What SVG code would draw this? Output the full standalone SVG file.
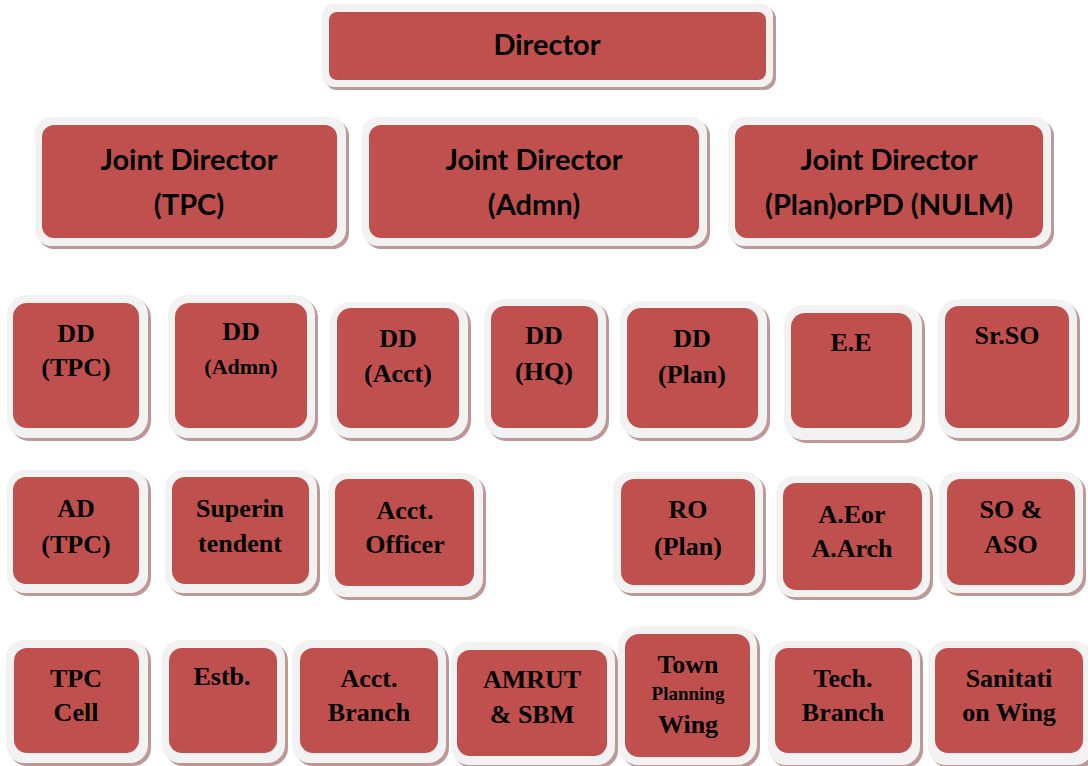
<svg xmlns="http://www.w3.org/2000/svg" width="1088" height="766" viewBox="0 0 1088 766">
<style>
.sh{fill:#BE9797}
.bd{fill:#F2F2F2}
.fl{fill:#C0504D}
text{fill:#000;text-anchor:middle}
.c{font-family:Lato,"Open Sans",sans-serif;font-weight:bold;font-size:29px}
.s{font-family:"Liberation Serif","Times New Roman",serif;font-weight:bold;font-size:26px}
.sm{font-family:"Liberation Serif","Times New Roman",serif;font-weight:bold;font-size:22px}
.xs{font-family:"Liberation Serif","Times New Roman",serif;font-weight:bold;font-size:19px}
</style>
<rect width="1088" height="766" fill="#FFFFFF"/>
<g id="connectors"></g>

<g id="director">
<rect class="sh" x="325" y="7" width="451" height="83" rx="12"/>
<rect class="bd" x="322" y="4" width="451" height="83" rx="12"/>
<rect class="fl" x="329" y="12" width="437" height="68" rx="8"/>
<text class="c" x="547" y="55">Director</text>
</g>

<g id="jd-tpc">
<rect class="sh" x="38" y="120" width="311" height="129" rx="16"/>
<rect class="bd" x="35" y="117" width="311" height="129" rx="16"/>
<rect class="fl" x="42" y="125" width="295" height="113" rx="12"/>
<text class="c" x="189" y="170">Joint Director</text>
<text class="c" x="189" y="215">(TPC)</text>
</g>
<g id="jd-admn">
<rect class="sh" x="365" y="120" width="345" height="129" rx="16"/>
<rect class="bd" x="362" y="117" width="345" height="129" rx="16"/>
<rect class="fl" x="369" y="125" width="330" height="113" rx="12"/>
<text class="c" x="534" y="170">Joint Director</text>
<text class="c" x="534" y="215">(Admn)</text>
</g>
<g id="jd-plan">
<rect class="sh" x="731" y="120" width="323" height="129" rx="16"/>
<rect class="bd" x="728" y="117" width="323" height="129" rx="16"/>
<rect class="fl" x="735" y="125" width="308" height="113" rx="12"/>
<text class="c" x="889" y="170">Joint Director</text>
<text class="c" x="889" y="215">(Plan)orPD (NULM)</text>
</g>

<g id="dd-tpc">
<rect class="sh" x="10" y="298" width="141" height="143" rx="20"/>
<rect class="bd" x="7" y="295" width="141" height="143" rx="20"/>
<rect class="fl" x="13" y="303" width="126" height="125" rx="14"/>
<text class="s" x="76" y="342">DD</text>
<text class="s" x="76" y="376">(TPC)</text>
</g>
<g id="dd-admn">
<rect class="sh" x="171" y="298" width="147" height="143" rx="20"/>
<rect class="bd" x="168" y="295" width="147" height="143" rx="20"/>
<rect class="fl" x="175" y="303" width="132" height="125" rx="14"/>
<text class="s" x="241" y="340">DD</text>
<text class="sm" x="241" y="374">(Admn)</text>
</g>
<g id="dd-acct">
<rect class="sh" x="333" y="305" width="138" height="136" rx="20"/>
<rect class="bd" x="330" y="302" width="138" height="136" rx="20"/>
<rect class="fl" x="337" y="308" width="122" height="120" rx="14"/>
<text class="s" x="398" y="347">DD</text>
<text class="s" x="398" y="382">(Acct)</text>
</g>
<g id="dd-hq">
<rect class="sh" x="487" y="302" width="122" height="139" rx="20"/>
<rect class="bd" x="484" y="299" width="122" height="139" rx="20"/>
<rect class="fl" x="491" y="306" width="107" height="122" rx="14"/>
<text class="s" x="544" y="344">DD</text>
<text class="s" x="544" y="380">(HQ)</text>
</g>
<g id="dd-plan">
<rect class="sh" x="623" y="304" width="147" height="137" rx="20"/>
<rect class="bd" x="620" y="301" width="147" height="137" rx="20"/>
<rect class="fl" x="627" y="308" width="131" height="120" rx="14"/>
<text class="s" x="692" y="347">DD</text>
<text class="s" x="692" y="383">(Plan)</text>
</g>
<g id="ee">
<rect class="sh" x="787" y="308" width="138" height="135" rx="20"/>
<rect class="bd" x="784" y="305" width="138" height="135" rx="20"/>
<rect class="fl" x="791" y="313" width="121" height="115" rx="14"/>
<text class="s" x="851" y="351">E.E</text>
</g>
<g id="sr-so">
<rect class="sh" x="941" y="302" width="139" height="139" rx="20"/>
<rect class="bd" x="938" y="299" width="139" height="139" rx="20"/>
<rect class="fl" x="945" y="306" width="124" height="122" rx="14"/>
<text class="s" x="1007" y="344">Sr.SO</text>
</g>

<g id="ad-tpc">
<rect class="sh" x="10" y="473" width="141" height="123" rx="18"/>
<rect class="bd" x="7" y="470" width="141" height="123" rx="18"/>
<rect class="fl" x="13" y="477" width="126" height="107" rx="13"/>
<text class="s" x="76" y="517">AD</text>
<text class="s" x="76" y="553">(TPC)</text>
</g>
<g id="superintendent">
<rect class="sh" x="168" y="473" width="152" height="123" rx="18"/>
<rect class="bd" x="165" y="470" width="152" height="123" rx="18"/>
<rect class="fl" x="172" y="477" width="137" height="107" rx="13"/>
<text class="s" x="240" y="517">Superin</text>
<text class="s" x="240" y="552">tendent</text>
</g>
<g id="acct-officer">
<rect class="sh" x="331" y="476" width="155" height="124" rx="18"/>
<rect class="bd" x="328" y="473" width="155" height="124" rx="18"/>
<rect class="fl" x="335" y="479" width="139" height="107" rx="13"/>
<text class="s" x="405" y="519">Acct.</text>
<text class="s" x="405" y="553">Officer</text>
</g>
<g id="ro-plan">
<rect class="sh" x="616" y="475" width="150" height="121" rx="18"/>
<rect class="bd" x="613" y="472" width="150" height="121" rx="18"/>
<rect class="fl" x="621" y="479" width="134" height="106" rx="13"/>
<text class="s" x="688" y="518">RO</text>
<text class="s" x="688" y="555">(Plan)</text>
</g>
<g id="ae-aarch">
<rect class="sh" x="779" y="479" width="154" height="121" rx="18"/>
<rect class="bd" x="776" y="476" width="154" height="121" rx="18"/>
<rect class="fl" x="783" y="483" width="139" height="107" rx="13"/>
<text class="s" x="852" y="523">A.Eor</text>
<text class="s" x="852" y="557">A.Arch</text>
</g>
<g id="so-aso">
<rect class="sh" x="942" y="475" width="144" height="121" rx="18"/>
<rect class="bd" x="939" y="472" width="144" height="121" rx="18"/>
<rect class="fl" x="947" y="479" width="128" height="106" rx="13"/>
<text class="s" x="1011" y="518">SO &amp;</text>
<text class="s" x="1011" y="553">ASO</text>
</g>

<g id="tpc-cell">
<rect class="sh" x="9" y="643" width="142" height="123" rx="18"/>
<rect class="bd" x="6" y="640" width="142" height="123" rx="18"/>
<rect class="fl" x="14" y="648" width="125" height="105" rx="13"/>
<text class="s" x="76" y="687">TPC</text>
<text class="s" x="76" y="721">Cell</text>
</g>
<g id="estb">
<rect class="sh" x="165" y="643" width="123" height="123" rx="18"/>
<rect class="bd" x="162" y="640" width="123" height="123" rx="18"/>
<rect class="fl" x="169" y="648" width="108" height="105" rx="13"/>
<text class="s" x="222" y="685">Estb.</text>
</g>
<g id="acct-branch">
<rect class="sh" x="295" y="643" width="154" height="123" rx="18"/>
<rect class="bd" x="292" y="640" width="154" height="123" rx="18"/>
<rect class="fl" x="300" y="648" width="138" height="105" rx="13"/>
<text class="s" x="369" y="687">Acct.</text>
<text class="s" x="369" y="721">Branch</text>
</g>
<g id="amrut-sbm">
<rect class="sh" x="454" y="645" width="164" height="123" rx="18"/>
<rect class="bd" x="451" y="642" width="164" height="123" rx="18"/>
<rect class="fl" x="457" y="650" width="150" height="106" rx="13"/>
<text class="s" x="532" y="688">AMRUT</text>
<text class="s" x="532" y="723">&amp; SBM</text>
</g>
<g id="town-planning">
<rect class="sh" x="621" y="629" width="139" height="139" rx="20"/>
<rect class="bd" x="618" y="626" width="139" height="139" rx="20"/>
<rect class="fl" x="625" y="634" width="125" height="123" rx="14"/>
<text class="s" x="688" y="673">Town</text>
<text class="xs" x="688" y="700">Planning</text>
<text class="s" x="688" y="733">Wing</text>
</g>
<g id="tech-branch">
<rect class="sh" x="771" y="644" width="152" height="124" rx="18"/>
<rect class="bd" x="768" y="641" width="152" height="124" rx="18"/>
<rect class="fl" x="775" y="648" width="137" height="105" rx="13"/>
<text class="s" x="843" y="687">Tech.</text>
<text class="s" x="843" y="721">Branch</text>
</g>
<g id="sanitation">
<rect class="sh" x="931" y="644" width="165" height="124" rx="18"/>
<rect class="bd" x="928" y="641" width="165" height="124" rx="18"/>
<rect class="fl" x="935" y="648" width="148" height="105" rx="13"/>
<text class="s" x="1009" y="687">Sanitati</text>
<text class="s" x="1009" y="721">on Wing</text>
</g>
</svg>
